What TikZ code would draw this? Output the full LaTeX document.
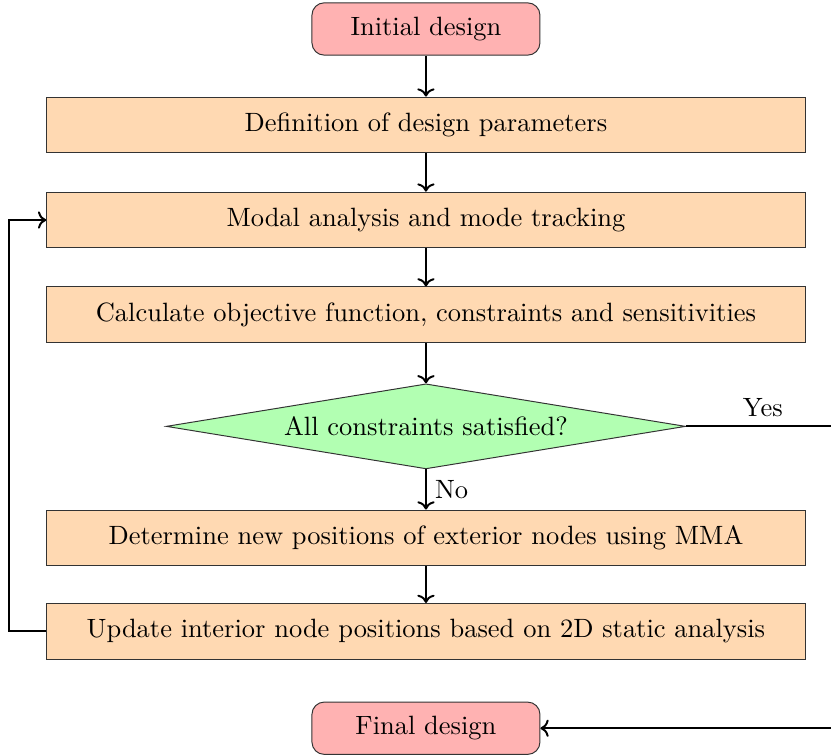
\documentclass[tikz,border=0pt]{standalone}
\usepackage{tikz}
\usetikzlibrary{shapes.geometric, arrows.meta, calc}

\begin{document}
\begin{tikzpicture}[
    font=\fontsize{10.8}{13}\selectfont,
    startstop/.style={draw=black!80, rounded corners=5pt, minimum width=3.27cm, minimum height=0.75cm, fill=red!30, align=center},
    process/.style={draw=black!80, minimum width=10.88cm, minimum height=0.8cm, fill=orange!30, align=center},
    decision/.style={draw=black!80, diamond, aspect=6.1, inner sep=0pt, minimum width=7.45cm, minimum height=1.22cm, fill=green!30, align=center},
    arrow/.style={->, thick}
]
\useasboundingbox (-6.11, 0.416) rectangle (5.81, -10.40);

% === MAIN CHAIN ===
\node[startstop] (initial) at (0, 0) {Initial design};
\node[process] (params) at (0, -1.377) {Definition of design parameters};
\node[process] (modal) at (0, -2.74) {Modal analysis and mode tracking};
\node[process] (calc) at (0, -4.10) {Calculate objective function, constraints and sensitivities};
\node[decision] (decide) at (0, -5.70) {All constraints satisfied?};
\node[process] (mma) at (0, -7.30) {Determine new positions of exterior nodes using MMA};
\node[process] (update) at (0, -8.64) {Update interior node positions based on 2D static analysis};
\node[startstop] (final) at (0, -10.03) {Final design};

% === ARROWS ===
\draw[arrow] (initial) -- (params);
\draw[arrow] (params) -- (modal);
\draw[arrow] (modal) -- (calc);
\draw[arrow] (calc) -- (decide);
\draw[arrow] (decide) -- node[right] {No} (mma);
\draw[arrow] (mma) -- (update);

% === LOOP BACK ===
\draw[arrow] (update.west) -- ++(-0.53, 0) |- (modal.west);

% === EXIT ===
\draw[arrow] (decide.east) -- node[above] {Yes} ++(2.2, 0) |- (final.east);

\end{tikzpicture}
\end{document}
